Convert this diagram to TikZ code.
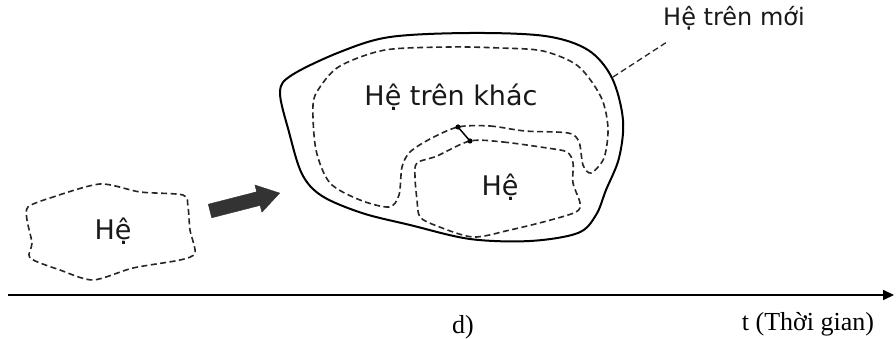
\documentclass[tikz,border=0pt]{standalone}
\usepackage{fontspec}
\setmainfont{Liberation Serif}
\newfontfamily\diagsans{DejaVu Sans}
\usetikzlibrary{arrows.meta}
\tikzset{
  solidline/.style={line width=2pt, line join=round},
  dashline/.style={line width=1.6pt, dash pattern=on 6pt off 3.5pt, draw=black!85},
  sanslabel/.style={font=\diagsans\fontsize{27}{30}\selectfont, inner sep=0pt, text=black!90},
  seriflabel/.style={font=\fontsize{26}{30}\selectfont, inner sep=0pt},
  dotmark/.style={fill=black},
}
\begin{document}
\begin{tikzpicture}[x=1pt,y=-1pt]
\useasboundingbox (0,0) rectangle (896,339);
\fill[white] (0,0) rectangle (896,339);

% left small system
\draw[dashline] plot[smooth cycle, tension=0.45] coordinates {
 (28,207) (50,198) (100,184) (140,192) (183,195) (188,207) (190,230)
 (195,253) (180,260) (133,268) (93,280) (60,270) (30,258) (32,243) (27,220)};
\node[sanslabel] (he1) at (113,231) {Hệ};

% fat arrow
\filldraw[fill=black!80, draw=black!80, line join=round]
 (211.7,217.8) -- (208.3,204.2) -- (256.7,191.8) -- (254.9,185.0)
 -- (279.7,193.1) -- (261.9,212.2) -- (260.1,205.4) -- cycle;

% outer solid boundary (new supersystem)
\draw[solidline] plot[smooth cycle, tension=0.55] coordinates {
 (280,92) (292,75) (340,52) (390,37) (470,33) (545,36) (588,50)
 (612,78) (623,120) (619,158) (606,190) (596,215) (578,233)
 (530,241) (470,239) (410,225) (362,213) (322,196) (302,174) (289,132)};

% other supersystem dashed boundary
\coordinate (d1) at (458,127);
\coordinate (d2) at (470,141);
\draw[dashline] plot[smooth cycle, tension=0.5] coordinates {
 (458,127) (490,126) (525,131) (568,133) (579,142) (583,165) (591,173)
 (604,158) (608,128) (601,97) (578,66) (543,51) (500,48) (450,47)
 (385,50) (340,66) (320,87) (313,105) (316,150) (330,183) (360,200)
 (389,207) (399,195) (402,167) (410,152) (430,139)};

% system dashed boundary
\draw[dashline] plot[smooth cycle, tension=0.5] coordinates {
 (470,141) (503,142) (547,148) (567,152) (573,163) (573,183) (580,203)
 (576,212) (547,221) (510,230) (473,237) (437,226) (420,217) (417,200)
 (415,177) (417,163) (437,156)};

% small link between dots
\draw[line width=1.5pt] (d1) -- (d2);
\fill[dotmark] (d1) circle (2.6pt);
\fill[dotmark] (d2) circle (2.6pt);

\node[sanslabel] (khac) at (451,97) {Hệ trên khác};
\node[sanslabel] (he2) at (500,187) {Hệ};

% new supersystem label and leader
\node[sanslabel, font=\diagsans\fontsize{24}{28}\selectfont] (moi) at (734,18) {Hệ trên mới};
\coordinate (attach) at (613,77);
\coordinate (leadend) at (667,42);
\draw[dashline, line width=1.3pt] (attach) -- (leadend);

% time axis
\coordinate (axstart) at (8,295);
\coordinate (axend) at (894,295);
\draw[line width=1.6pt, -{Triangle[length=11pt,width=10pt]}] (axstart) -- (axend);
\node[seriflabel] (tlabel) at (808,324) {t (Thời gian)};
\node[seriflabel] (dlabel) at (463,327) {d)};
\end{tikzpicture}
\end{document}
